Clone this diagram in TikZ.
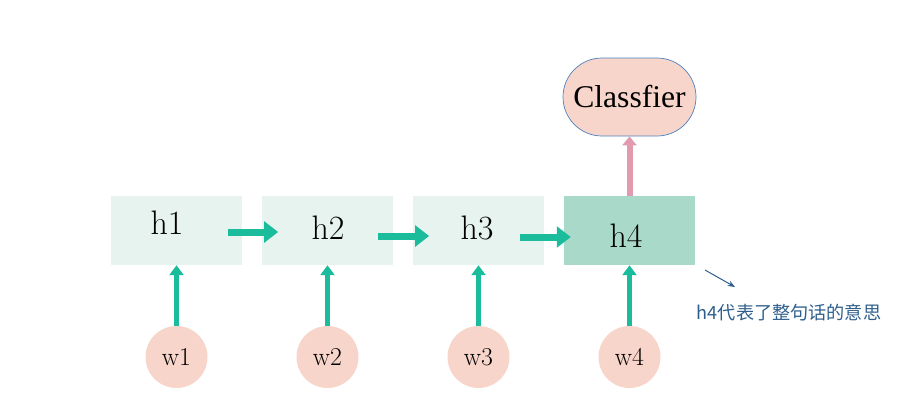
\documentclass[tikz,border=0pt]{standalone}
\usepackage{fontspec}
\newfontfamily\cjk{Noto Sans CJK SC}
\newfontfamily\timesish{Liberation Serif}
\usepackage{tikz}
\usetikzlibrary{arrows.meta}
\usetikzlibrary{positioning}

\definecolor{teal1}{HTML}{1BBC9B}
\definecolor{cellA}{HTML}{E6F3EE}
\definecolor{cellB}{HTML}{A9D9C9}
\definecolor{salmon}{HTML}{F8D5CA}
\definecolor{pinkarr}{HTML}{E29AAE}
\definecolor{noteblue}{HTML}{2E5F8C}
\definecolor{ovalline}{HTML}{4F81BD}

\tikzset{
	hbox/.style={fill=cellA, minimum width=3.93cm, minimum height=2.07cm, inner sep=0pt},
	wnode/.style={circle, fill=salmon, minimum size=1.86cm, inner sep=0pt, font=\fontsize{22}{26}\selectfont},
	flow/.style={-{Triangle[length=0.42cm, width=0.62cm]}, teal1, line width=0.21cm},
	upin/.style={-{Triangle[length=0.3cm, width=0.42cm]}, teal1, line width=0.15cm}
}

\begin{document}
\begin{tikzpicture}[x=0.03cm, y=-0.03cm]
	\useasboundingbox (0,0) rectangle (923,407);
	%
	\node[hbox] (h1) at (176.5,230.5) {};
	\node[hbox] (h2) at (327.5,230.5) {};
	\node[hbox] (h3) at (478.5,230.5) {};
	\node[hbox, fill=cellB] (h4) at (629.5,230.5) {};
	\node[font=\fontsize{29}{34}\selectfont] (t1) at (167,223) {h1};
	\node[font=\fontsize{29}{34}\selectfont] (t2) at (328,228) {h2};
	\node[font=\fontsize{29}{34}\selectfont] (t3) at (477,228) {h3};
	\node[font=\fontsize{29}{34}\selectfont] (t4) at (626,236) {h4};
	%
	\node[wnode] (w1) at (176.5,357) {w1};
	\node[wnode] (w2) at (327.5,357) {w2};
	\node[wnode] (w3) at (478.5,357) {w3};
	\node[wnode] (w4) at (629.5,357) {w4};
	%
	\node[draw=ovalline, line width=0.6pt, fill=salmon, rounded corners=1.17cm, minimum width=3.99cm, minimum height=2.34cm, inner sep=0pt, font=\timesish\fontsize{27}{31}\selectfont] (cls) at (629.5,97) {Classfier};
	%
	\node[font=\cjk\fontsize{15.5}{18}\selectfont, text=noteblue] (note) at (789,313) {h4代表了整句话的意思};
	\coordinate (p0) at (705,270);
	\coordinate (p1) at (735,287);
	%
	\draw[upin] (w1.north) -- (h1.south);
	\draw[upin] (w2.north) -- (h2.south);
	\draw[upin] (w3.north) -- (h3.south);
	\draw[upin] (w4.north) -- (h4.south);
	%
	\draw[flow] ([xshift=-12]h1.east |- 0,232) -- ([xshift=14]h2.west |- 0,232);
	\draw[flow] ([xshift=-13]h2.east |- 0,236) -- ([xshift=14]h3.west |- 0,236);
	\draw[flow] ([xshift=-21]h3.east |- 0,237) -- ([xshift=6]h4.west |- 0,237);
	%
	\draw[-{Triangle[length=0.27cm, width=0.42cm]}, pinkarr, line width=0.18cm] (h4.north) -- (cls.south);
	\draw[-{Stealth[length=0.22cm, width=0.17cm]}, noteblue, line width=0.03cm] (p0) -- (p1);
\end{tikzpicture}
\end{document}
